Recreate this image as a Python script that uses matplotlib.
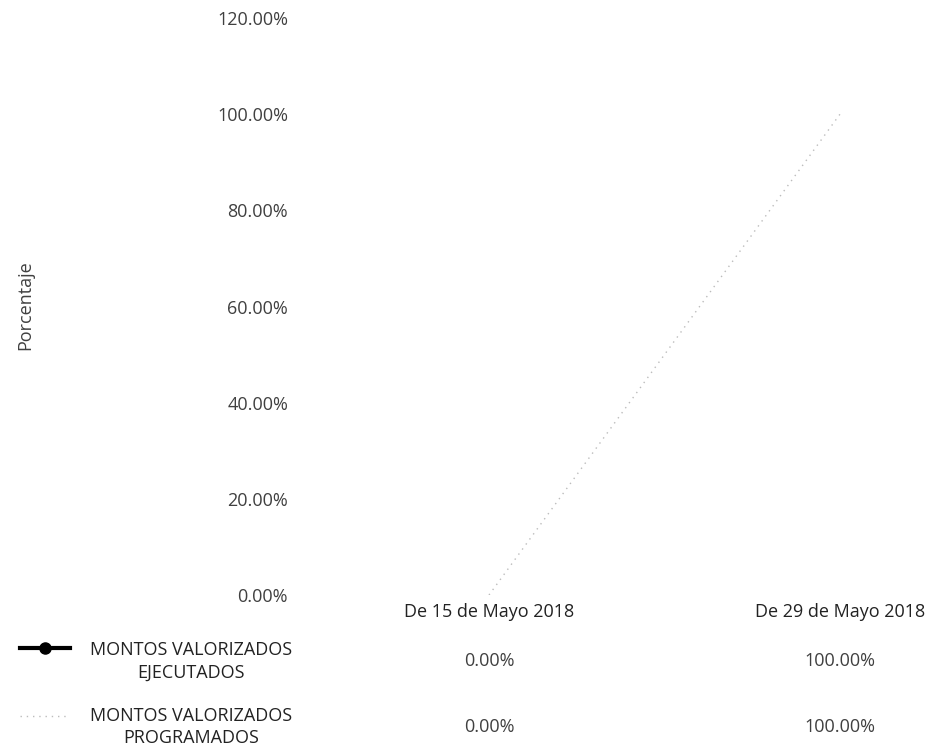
import matplotlib.pyplot as plt
import matplotlib.transforms as mtransforms
from matplotlib.lines import Line2D

# Datos
categorias = ["De 15 de Mayo 2018", "De 29 de Mayo 2018"]
ejecutados = [0.0, 100.0]
programados = [0.0, 100.0]
series = ["MONTOS VALORIZADOS\nEJECUTADOS", "MONTOS VALORIZADOS\nPROGRAMADOS"]
yticks = [0, 20, 40, 60, 80, 100, 120]

plt.rcParams['font.family'] = ['Open Sans', 'DejaVu Sans']
FS = 13
GRIS = '#404040'
W, H = 936, 748
fig = plt.figure(figsize=(W / 100, H / 100), dpi=100)

# ejes: 0% en y=595, 120% en y=18; categoria 0 en x=489, 1 en x=840
left, right = 313, 936
bottom, top = 595, 18
ax = fig.add_axes([left / W, 1 - bottom / H, (right - left) / W, (bottom - top) / H])
x = list(range(len(categorias)))
px_unit = 840 - 489
ax.set_xlim(-(489 - left) / px_unit, (right - 489) / px_unit)
ax.set_ylim(0, 120)

# la serie ejecutada no se ve en el grafico original, solo la programada
ax.plot(x, programados, color='#bcbcbc', lw=1.0, linestyle=(0, (1, 3.5)))

for s in ax.spines.values():
    s.set_visible(False)
ax.set_yticks(yticks)
ax.set_yticklabels([f"{v:.2f}%" for v in yticks], fontsize=FS, color=GRIS)
ax.tick_params(axis='y', length=0, pad=18)
ax.set_xticks([])

def fy(py):
    return 1 - py / H

fig.text(25 / W, fy(305), "Porcentaje", rotation=90, ha='center', va='center',
         fontsize=FS, color=GRIS)

# tabla de datos debajo
trans = mtransforms.blended_transform_factory(ax.transData, fig.transFigure)

for i, c in enumerate(categorias):
    fig.text(i, fy(612), c, transform=trans, ha='center', va='center', fontsize=FS, color='#222222')

filas_y = [661, 727]
for fila, valores in zip(filas_y, [ejecutados, programados]):
    for i, v in enumerate(valores):
        fig.text(i, fy(fila), f"{v:.2f}%", transform=trans, ha='center', va='center',
                 fontsize=FS, color=GRIS)

for nombre, yy in zip(series, filas_y):
    fig.text(191 / W, fy(yy), nombre, ha='center', va='center', fontsize=FS,
             color='#222222', linespacing=1.35)

# simbolos de leyenda
fig.add_artist(Line2D([20 / W, 70 / W], [fy(648), fy(648)], color='black', lw=3))
fig.add_artist(Line2D([45 / W], [fy(648)], color='black', marker='o', markersize=8))
fig.add_artist(Line2D([20 / W, 70 / W], [fy(716), fy(716)], color='#bcbcbc', lw=1,
                      linestyle=(0, (1, 3.5))))

fig.savefig("out.png", dpi=100, facecolor='white')
